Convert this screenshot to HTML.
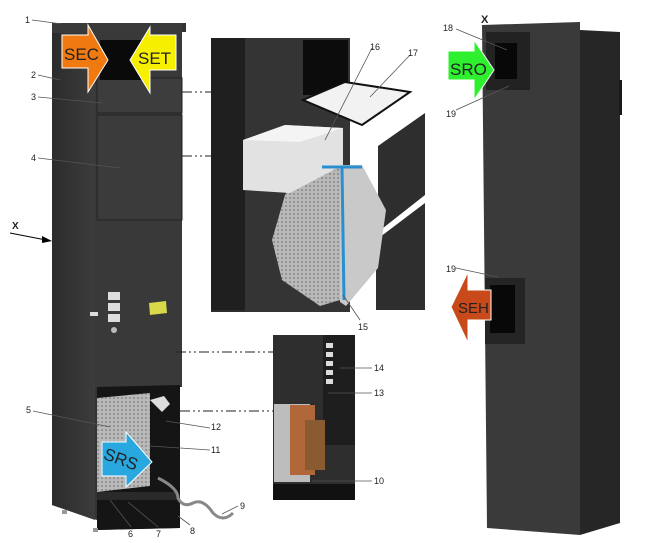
<!DOCTYPE html>
<html><head><meta charset="utf-8"><style>
html,body{margin:0;padding:0;background:#fff;width:660px;height:543px;overflow:hidden}
text{font-family:"Liberation Sans",sans-serif;font-size:9px;fill:#222}
.lbl{font-family:"Liberation Sans",sans-serif;font-size:17px;fill:#222}
</style></head><body>
<svg width="660" height="543" viewBox="0 0 660 543" xmlns="http://www.w3.org/2000/svg">
<defs>
<pattern id="mesh" width="4" height="4" patternUnits="userSpaceOnUse"><rect width="4" height="4" fill="#b9b9b9"/><circle cx="2" cy="2" r="1" fill="#8a8a8a"/></pattern>
<linearGradient id="side" x1="0" x2="1"><stop offset="0" stop-color="#2c2c2c"/><stop offset="1" stop-color="#3c3c3c"/></linearGradient>
</defs>
<!-- LEFT UNIT -->
<polygon points="52,23 186,23 186,32 182,32 182,385 180,385 180,528 97,530 97,520 52,505" fill="#333"/>
<polygon points="52,23 95,30 95,520 52,505" fill="url(#side)"/>
<rect x="52" y="23" width="130" height="10" fill="#3a3a3a"/>
<rect x="95" y="32" width="87" height="355" fill="#393939"/>
<rect x="97" y="78" width="85" height="35" fill="#3d3d3d" stroke="#222" stroke-width="1"/>
<rect x="97" y="115" width="85" height="105" fill="#3b3b3b" stroke="#222" stroke-width="1"/>
<rect x="100" y="40" width="42" height="40" fill="#0a0a0a"/>
<rect x="108" y="292" width="12" height="8" fill="#ddd"/><rect x="108" y="303" width="12" height="8" fill="#ddd"/><rect x="108" y="314" width="12" height="8" fill="#ddd"/>
<circle cx="114" cy="330" r="3" fill="#bbb"/>
<rect x="90" y="312" width="8" height="4" fill="#ddd"/>
<polygon points="149,303 166,301 167,313 150,315" fill="#d8d84a"/>
<!-- bottom compartment -->
<polygon points="97,387 180,385 180,528 97,530" fill="#151515"/>
<polygon points="97,398 150,393 150,486 97,492" fill="url(#mesh)"/>
<rect x="97" y="492" width="80" height="8" fill="#2a2a2a"/>
<path d="M150 400 l14 -4 l6 8 l-8 8 z" fill="#ddd"/>
<path d="M158 478 q20 10 20 20 q5 10 15 5 q10 -5 20 10 q10 10 20 0" stroke="#888" stroke-width="3" fill="none"/>
<rect x="93" y="528" width="5" height="4" fill="#999"/><rect x="62" y="510" width="5" height="4" fill="#999"/>
<polygon points="102,442 126,442 126,432 152,462 126,487 126,476 102,476" fill="#29a8e0" stroke="#fff" stroke-width="1"/>
<text class="lbl" x="103" y="464" transform="rotate(20 118 460)">SRS</text>
<polygon points="62,35 88,35 88,25 108,60 88,92 88,68 62,68" fill="#f07a10" stroke="#fff" stroke-width="1"/>
<text class="lbl" x="64" y="60">SEC</text>
<polygon points="176,35 150,35 150,27 130,60 150,93 150,70 176,70" fill="#f6f000" stroke="#fff" stroke-width="1"/>
<text class="lbl" x="138" y="64">SET</text>
<text x="12" y="229" style="font-size:10px;font-weight:bold">X</text>
<line x1="10" y1="233" x2="46" y2="240" stroke="#000" stroke-width="1"/>
<polygon points="52,241 42,236 42,243" fill="#000"/>

<!-- TOP INSET -->
<rect x="211" y="38" width="215" height="274" fill="#2d2d2d"/>
<polygon points="211,38 245,38 245,310 211,310" fill="#1f1f1f"/>
<polygon points="245,38 350,38 350,312 245,312" fill="#343434"/>
<rect x="303" y="40" width="45" height="55" fill="#0c0c0c"/>
<rect x="350" y="38" width="76" height="274" fill="#fff"/>
<polygon points="378,146 425,113 425,195 378,232" fill="#2e2e2e"/>
<polygon points="376,240 425,203 425,310 376,310" fill="#2e2e2e"/>
<polygon points="303,100 345,82 410,92 362,125" fill="#f2f2f2" stroke="#111" stroke-width="2"/>
<polygon points="285,195 300,168 340,165 340,300 320,306 282,280 272,240" fill="url(#mesh)"/>
<polygon points="340,165 362,165 386,210 378,268 346,306 340,302" fill="#c9c9c9"/>
<polygon points="243,140 285,125 343,128 343,165 290,193 243,190" fill="#e2e2e2"/>
<polygon points="243,140 285,125 343,128 300,142" fill="#f4f4f4"/>
<line x1="342" y1="168" x2="344" y2="300" stroke="#2a8fd0" stroke-width="3"/>
<line x1="322" y1="167" x2="362" y2="167" stroke="#2a8fd0" stroke-width="3"/>
<g stroke="#222" stroke-width="1" stroke-dasharray="10,3,2,3,2,3" fill="none">
<line x1="182" y1="92" x2="211" y2="92"/>
<line x1="182" y1="156" x2="211" y2="156"/>
<line x1="176" y1="352" x2="273" y2="352"/>
<line x1="180" y1="411" x2="273" y2="411"/>
</g>

<!-- BOTTOM INSET -->
<rect x="273" y="335" width="82" height="165" fill="#2e2e2e"/>
<rect x="323" y="335" width="32" height="110" fill="#1e1e1e"/>
<g fill="#ddd"><rect x="326" y="343" width="7" height="5"/><rect x="326" y="352" width="7" height="5"/><rect x="326" y="361" width="7" height="5"/><rect x="326" y="370" width="7" height="5"/><rect x="326" y="379" width="7" height="5"/></g>
<rect x="274" y="404" width="36" height="78" fill="#bdbdbd"/>
<rect x="290" y="405" width="25" height="70" fill="#b0683a"/>
<rect x="305" y="420" width="20" height="50" fill="#8a5a30"/>
<rect x="273" y="484" width="82" height="16" fill="#111"/>

<!-- RIGHT UNIT -->
<polygon points="482,25 580,22 580,535 487,528" fill="#3a3a3a"/>
<polygon points="580,30 620,32 620,523 580,535" fill="#262626"/>
<rect x="619" y="80" width="3" height="35" fill="#1a1a1a"/>
<rect x="486" y="32" width="44" height="58" fill="#222"/>
<rect x="495" y="43" width="22" height="36" fill="#080808"/>
<rect x="485" y="278" width="40" height="66" fill="#252525"/>
<rect x="490" y="285" width="25" height="48" fill="#080808"/>
<polygon points="448,51 474,51 474,40 494,70 474,100 474,80 448,80" fill="#2ef02e" stroke="#fff" stroke-width="1"/>
<text class="lbl" x="450" y="75">SRO</text>
<polygon points="491,290 468,290 468,272 451,307 468,343 468,320 491,320" fill="#c84a1a" stroke="#fff" stroke-width="1"/>
<text x="458" y="313" style="font-size:15px">SEH</text>
<text x="481" y="23" style="font-size:11px;font-weight:bold">X</text>

<g stroke="#555" stroke-width="0.8">
<line x1="32" y1="20" x2="62" y2="24"/>
<line x1="38" y1="75" x2="60" y2="80"/>
<line x1="38" y1="97" x2="102" y2="103"/>
<line x1="38" y1="158" x2="120" y2="168"/>
<line x1="33" y1="411" x2="110" y2="427"/>
<line x1="131" y1="527" x2="110" y2="500"/>
<line x1="158" y1="527" x2="128" y2="502"/>
<line x1="190" y1="525" x2="178" y2="516"/>
<line x1="238" y1="506" x2="222" y2="514"/>
<line x1="210" y1="428" x2="166" y2="421"/>
<line x1="210" y1="450" x2="150" y2="446"/>
<line x1="372" y1="48" x2="325" y2="140"/>
<line x1="410" y1="55" x2="370" y2="97"/>
<line x1="360" y1="320" x2="343" y2="295"/>
<line x1="372" y1="368" x2="340" y2="368"/>
<line x1="372" y1="393" x2="328" y2="393"/>
<line x1="372" y1="481" x2="312" y2="481"/>
<line x1="456" y1="29" x2="507" y2="50"/>
<line x1="456" y1="110" x2="509" y2="86"/>
<line x1="456" y1="268" x2="498" y2="277"/>
</g>
<text x="25" y="23">1</text><text x="31" y="78">2</text><text x="31" y="100">3</text><text x="31" y="161">4</text>
<text x="26" y="413">5</text><text x="128" y="537">6</text><text x="156" y="537">7</text><text x="190" y="534">8</text><text x="240" y="509">9</text>
<text x="374" y="484">10</text><text x="211" y="453">11</text><text x="211" y="430">12</text><text x="374" y="396">13</text><text x="374" y="371">14</text><text x="358" y="330">15</text>
<text x="370" y="50">16</text><text x="408" y="56">17</text><text x="443" y="31">18</text><text x="446" y="117">19</text><text x="446" y="272">19</text>
</svg>
</body></html>
